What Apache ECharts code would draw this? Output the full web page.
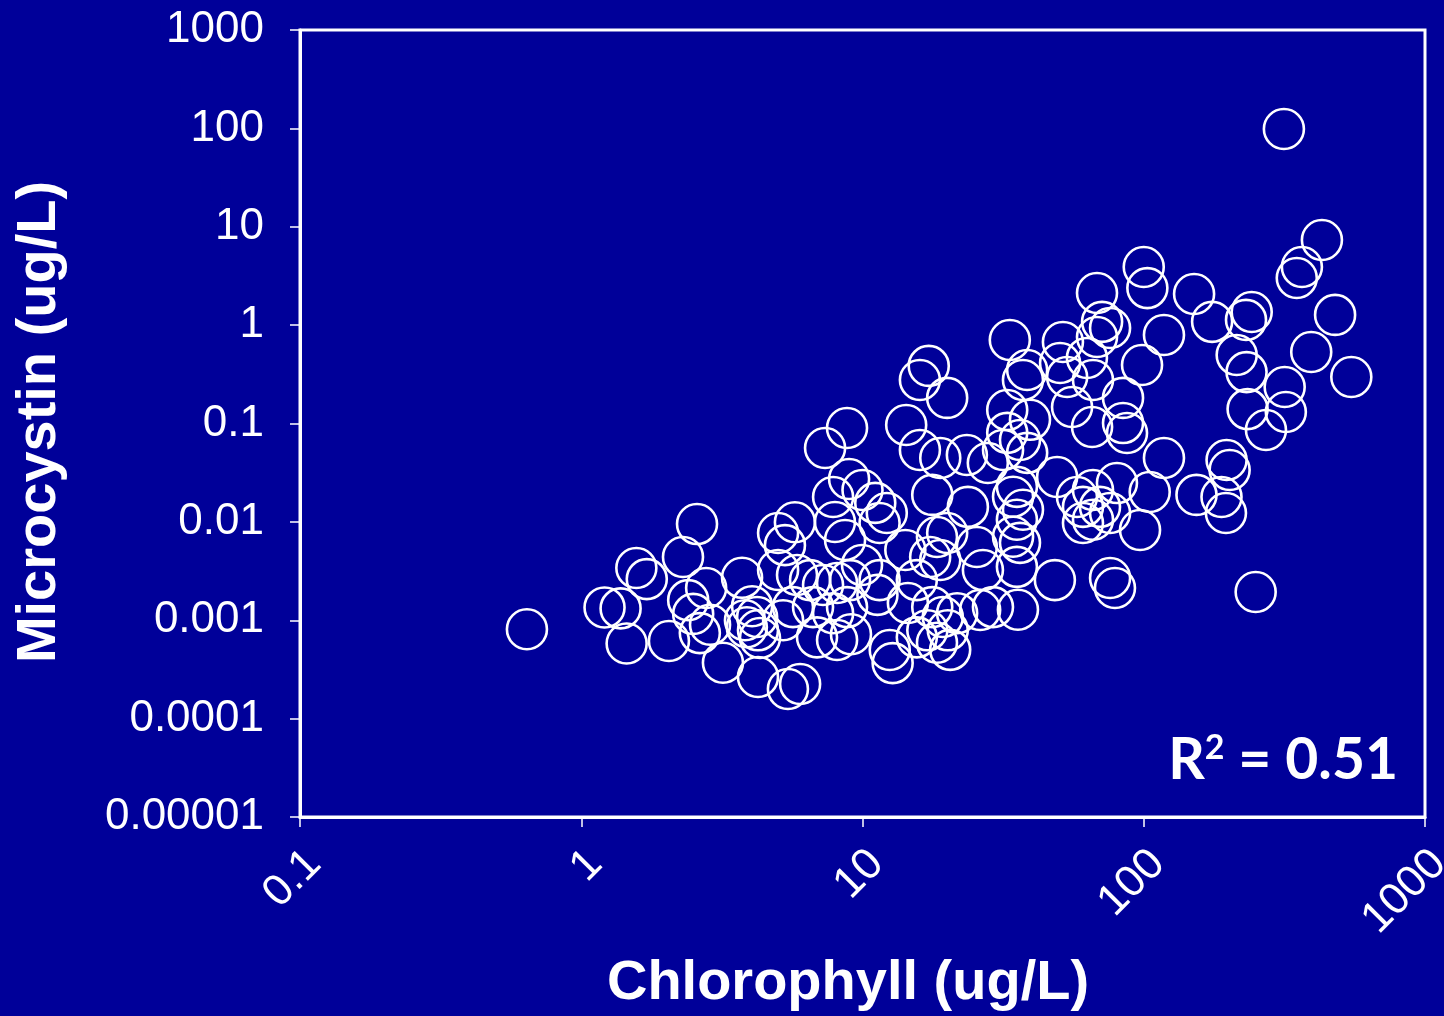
<!DOCTYPE html>
<html>
<head>
<meta charset="utf-8">
<script src="https://cdn.jsdelivr.net/npm/echarts@6/dist/echarts.min.js"></script>
<style>
  html, body { margin: 0; padding: 0; background: #000099; }
  #chart { width: 1444px; height: 1016px; }
</style>
</head>
<body>
<div id="chart"></div>
<script>
// Chlorophyll (ug/L) values
var chlorophyll = [
  0.641, 1.21, 1.38, 1.45, 1.57, 1.71, 2.05, 2.30, 2.58, 2.40,
  2.78, 2.50, 2.64, 2.87, 3.19, 3.73, 3.82, 4.05, 4.22, 4.25,
  3.88, 4.32, 4.25, 5.43, 6.0, 5.01, 5.30, 5.75, 5.01, 5.85,
  6.51, 7.24, 8.12, 9.03, 5.66, 5.22, 6.67, 7.86, 8.81, 6.89,
  8.12, 9.10, 7.36, 8.81, 7.86, 8.96, 7.98, 8.67, 10.0, 11.1,
  12.2, 11.5, 9.96, 11.3, 11.5, 12.5, 12.8, 14.2, 15.6, 14.5,
  14.3, 16.0, 17.2, 20.0, 16.0, 18.9, 17.7, 18.4, 20.0, 17.4,
  18.9, 17.7, 19.3, 21.7, 20.1, 17.0, 15.6, 18.4, 20.5, 23.7,
  25.5, 26.8, 23.5, 27.9, 26.2, 29.1, 31.6, 32.7, 33.4, 38.5,
  37.2, 39.4, 36.3, 38.5, 32.7, 35.4, 34.3, 37.2, 35.4, 34.3,
  36.3, 35.4, 35.7, 48.3, 49.2, 51.6, 50.4, 53.4, 62.8, 66.0,
  55.6, 65.5, 57.9, 66.0, 60.8, 69.9, 66.0, 60.8, 75.9, 80.3,
  84.4, 87.2, 84.4, 68.2, 71.1, 75.9, 68.2, 97.0, 75.9, 79.0,
  100, 103, 118, 98.6, 118, 105, 151, 175, 154, 189,
  196, 197, 202, 214, 232, 231, 242, 234, 272, 250,
  315, 430, 365, 350, 479, 394, 547, 317, 320
];
// Microcystin (ug/L) values
var microcystin = [
  0.00081, 0.00135, 0.00132, 0.00058, 0.0034, 0.00262, 0.000615, 0.0044, 0.0095, 0.0016,
  0.00213, 0.00116, 0.00074, 0.0009, 0.00037, 0.0027, 0.001, 0.00139, 0.00108, 0.00079,
  0.00085, 0.00066, 0.000265, 0.0002, 0.000225, 0.0077, 0.0058, 0.0099, 0.00324, 0.00288,
  0.00256, 0.00228, 0.00239, 0.00256, 0.00136, 0.001, 0.00136, 0.00118, 0.00136, 0.00067,
  0.00063, 0.00072, 0.0564, 0.09, 0.0179, 0.0273, 0.00998, 0.00654, 0.0211, 0.0156,
  0.0123, 0.00975, 0.00365, 0.00181, 0.00256, 0.000498, 0.000367, 0.00518, 0.00256, 0.0015,
  0.0966, 0.277, 0.385, 0.182, 0.0538, 0.0446, 0.0188, 0.00701, 0.0077, 0.0044,
  0.0041, 0.00136, 0.00108, 0.00118, 0.00079, 0.00079, 0.00067, 0.00059, 0.0005, 0.0142,
  0.00556, 0.00324, 0.0479, 0.0397, 0.00127, 0.00136, 0.0538, 0.137, 0.706, 0.35,
  0.277, 0.109, 0.068, 0.0503, 0.0803, 0.0227, 0.018, 0.0133, 0.0105, 0.00705,
  0.00612, 0.00349, 0.00128, 0.00256, 0.0286, 0.674, 0.412, 0.297, 0.464, 0.277,
  0.147, 0.092, 0.0179, 0.0211, 0.0142, 0.0142, 0.0105, 0.00975, 0.0123, 0.0248,
  0.101, 0.08, 0.182, 2.12, 1.08, 0.934, 0.757, 0.00827, 0.00269, 0.00213,
  3.90, 2.38, 0.794, 0.393, 0.0446, 0.0201, 2.07, 1.08, 0.0188, 0.0179,
  0.0123, 0.0426, 0.0337, 0.497, 0.333, 1.13, 1.36, 0.14, 0.0859, 0.00194,
  98.6, 7.33, 3.90, 3.01, 1.27, 0.533, 0.297, 0.235, 0.131
];
var xTicks = ['0.1', '1', '10', '100', '1000'];
var yTicks = ['0.00001', '0.0001', '0.001', '0.01', '0.1', '1', '10', '100', '1000'];
var xTitle = 'Chlorophyll (ug/L)';
var yTitle = 'Microcystin (ug/L)';
var rLabel = 'R';
var rExp = '2';
var rValue = ' = 0.51';

var points = chlorophyll.map(function (c, i) { return [c, microcystin[i]]; });

function fmt(v) {
  var e = Math.round(Math.log10(v));
  return e >= 0 ? String(Math.round(v)) : v.toFixed(-e);
}

var chart = echarts.init(document.getElementById('chart'), null, { renderer: 'canvas' });
var labelFont = { color: '#fff', fontSize: 44, fontFamily: '"Liberation Sans", Arial, sans-serif' };
chart.setOption({
  backgroundColor: '#000099',
  animation: false,
  grid: {
    left: 300, top: 30, right: 19, bottom: 199,
    containLabel: false, outerBoundsMode: 'none',
    show: true, borderColor: '#fff', borderWidth: 3, backgroundColor: 'transparent'
  },
  xAxis: {
    type: 'log', logBase: 10, min: 0.1, max: 1000,
    axisLine: { show: true, lineStyle: { color: '#fff', width: 3 } },
    axisTick: { show: true, inside: false, length: 10, lineStyle: { color: '#fff', width: 1.5 } },
    minorTick: { show: false },
    splitLine: { show: false },
    axisLabel: Object.assign({ rotate: 45, margin: 26, verticalAlign: 'top', lineHeight: 40,
      hideOverlap: false,
      formatter: function (v) {
      var s = fmt(v); return xTicks.indexOf(s) >= 0 ? s : ''; } }, labelFont)
  },
  yAxis: {
    type: 'log', logBase: 10, min: 0.00001, max: 1000,
    axisLine: { show: true, lineStyle: { color: '#fff', width: 3 } },
    axisTick: { show: true, inside: false, length: 10, lineStyle: { color: '#fff', width: 1.5 } },
    splitLine: { show: false },
    axisLabel: Object.assign({ margin: 36, formatter: function (v) {
      var s = fmt(v); return yTicks.indexOf(s) >= 0 ? s : ''; } }, labelFont)
  },
  series: [{
    type: 'scatter',
    data: points,
    symbol: 'circle',
    symbolSize: 40,
    itemStyle: { color: 'rgba(0,0,0,0)', borderColor: '#fff', borderWidth: 2.6, opacity: 1 },
    emphasis: { disabled: true }
  }],
  graphic: [
    {
      type: 'text', x: 848, y: 984,
      style: { text: xTitle, fill: '#fff', align: 'center', verticalAlign: 'middle',
        font: 'bold 56px "Liberation Sans", Arial, sans-serif' }
    },
    {
      type: 'text', x: 40, y: 422, rotation: Math.PI / 2,
      style: { text: yTitle, fill: '#fff', align: 'center', verticalAlign: 'middle',
        font: 'bold 56px "Liberation Sans", Arial, sans-serif' }
    },
    {
      type: 'text', x: 1398, y: 761,
      style: {
        text: '{a|' + rLabel + '}{b|' + rExp + '}{a|' + rValue + '}',
        align: 'right', verticalAlign: 'middle',
        rich: {
          a: { fill: '#fff', fontSize: 57, fontWeight: 'bold', fontFamily: 'Lato, "Open Sans", sans-serif', lineHeight: 60 },
          b: { fill: '#fff', fontSize: 34, fontWeight: 'bold', fontFamily: 'Lato, "Open Sans", sans-serif', verticalAlign: 'top', lineHeight: 40 }
        }
      }
    }
  ]
});
</script>
</body>
</html>
